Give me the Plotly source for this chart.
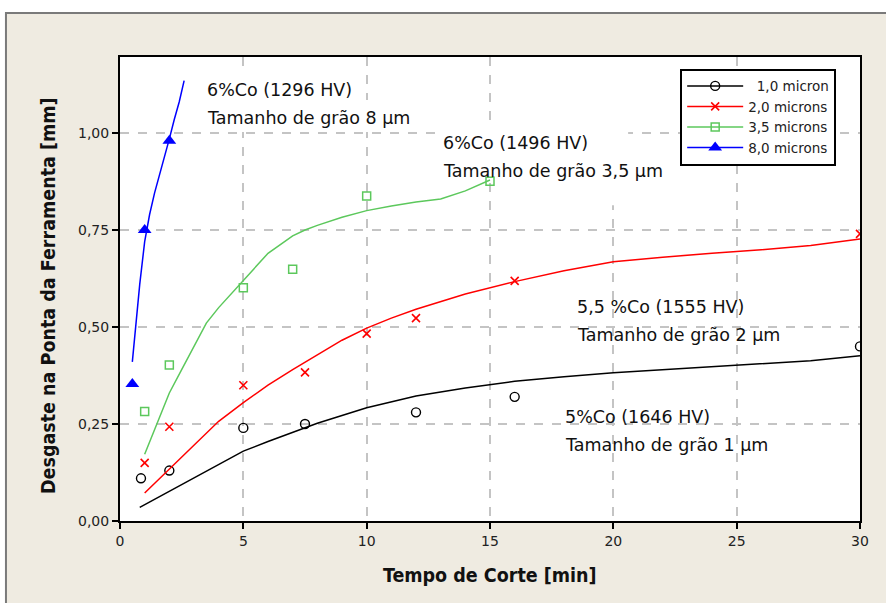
import plotly.graph_objects as go

# ---------------- data ----------------
series_names = ["\u00a0\u00a01,0 micron", "2,0 microns", "3,5 microns", "8,0 microns"]

# measured points (markers)
t_1_pts = [0.85, 2.0, 5.0, 7.5, 12.0, 16.0, 30.0]
w_1_pts = [0.11, 0.13, 0.24, 0.25, 0.28, 0.32, 0.45]
t_2_pts = [1.0, 2.0, 5.0, 7.5, 10.0, 12.0, 16.0, 30.0]
w_2_pts = [0.15, 0.243, 0.35, 0.383, 0.483, 0.523, 0.619, 0.74]
t_35_pts = [1.0, 2.0, 5.0, 7.0, 10.0, 15.0]
w_35_pts = [0.282, 0.402, 0.601, 0.649, 0.838, 0.876]
t_8_pts = [0.5, 1.0, 2.0]
w_8_pts = [0.353, 0.75, 0.98]

# fitted curves (lines)
t_1_fit = [0.8, 2, 3, 4, 5, 6, 7, 8, 9, 10, 12, 14, 16, 18, 20, 22, 24, 26, 28, 30]
w_1_fit = [0.035, 0.077, 0.112, 0.147, 0.18, 0.205, 0.228, 0.252, 0.272, 0.292,
           0.322, 0.343, 0.36, 0.372, 0.382, 0.39, 0.397, 0.405, 0.413, 0.426]
t_2_fit = [1, 2, 3, 4, 5, 6, 7, 8, 9, 10, 11, 12, 13, 14, 16, 18, 20, 22, 24, 26, 28, 30]
w_2_fit = [0.072, 0.133, 0.195, 0.257, 0.305, 0.35, 0.39, 0.428, 0.466, 0.497, 0.523,
           0.546, 0.566, 0.585, 0.617, 0.645, 0.668, 0.68, 0.69, 0.699, 0.71, 0.727]
t_35_fit = [1, 1.5, 2, 2.5, 3, 3.5, 4, 5, 6, 7, 7.5, 8, 9, 10, 11, 12, 13, 14, 15]
w_35_fit = [0.172, 0.252, 0.33, 0.39, 0.45, 0.51, 0.55, 0.621, 0.69, 0.735, 0.75,
            0.762, 0.783, 0.80, 0.812, 0.822, 0.83, 0.851, 0.879]
t_8_fit = [0.5, 0.6, 0.8, 1.0, 1.2, 1.4, 1.6, 1.8, 2.0, 2.2, 2.4, 2.6]
w_8_fit = [0.41, 0.48, 0.61, 0.72, 0.79, 0.845, 0.89, 0.94, 0.985, 1.035, 1.08, 1.135]

x_ticks = [0, 5, 10, 15, 20, 25, 30]
x_ticktext = ["0", "5", "10", "15", "20", "25", "30"]
y_ticks = [0.0, 0.25, 0.5, 0.75, 1.0]
y_ticktext = ["0,00", "0,25", "0,50", "0,75", "1,00"]

x_title = "Tempo de Corte [min]"
y_title = "Desgaste na Ponta da Ferramenta [mm]"

labels = [
    (3.45, 1.111, "6%Co (1296 HV)"),
    (3.45, 1.039, "Tamanho de grão 8 µm"),
    (13.0, 0.974, "6%Co (1496 HV)"),
    (13.0, 0.902, "Tamanho de grão 3,5 µm"),
    (18.45, 0.552, "5,5 %Co (1555 HV)"),
    (18.45, 0.479, "Tamanho de grão 2 µm"),
    (17.96, 0.268, "5%Co (1646 HV)"),
    (17.96, 0.196, "Tamanho de grão 1 µm"),
]

# white text-box areas that mask the grid behind the upper labels (x0, x1, y0, y1 in data units)
mask_boxes = [
    (3.3, 9.9, 1.085, 1.162),
    (3.3, 11.8, 1.003, 1.085),
    (12.9, 20.6, 0.884, 1.028),
    (19.8, 20.2, 0.814, 1.196),
]

# ---------------- styles ----------------
styles = [
    dict(color="#000000", symbol="circle-open", size=9, mlw=1.4),
    dict(color="#ff0000", symbol="x-thin-open", size=8, mlw=1.6),
    dict(color="#5cc85c", symbol="square-open", size=8, mlw=1.5),
    dict(color="#0000ff", symbol="triangle-up", size=12, mlw=0),
]
fits = [(t_1_fit, w_1_fit), (t_2_fit, w_2_fit), (t_35_fit, w_35_fit), (t_8_fit, w_8_fit)]
pts = [(t_1_pts, w_1_pts), (t_2_pts, w_2_pts), (t_35_pts, w_35_pts), (t_8_pts, w_8_pts)]

fig = go.Figure()
for name, st, (tf, wf), (tp, wp) in zip(series_names, styles, fits, pts):
    marker = dict(symbol=st["symbol"], size=st["size"], color=st["color"],
                  line=dict(color=st["color"], width=st["mlw"]))
    fig.add_trace(go.Scatter(x=tf, y=wf, mode="lines", line=dict(color=st["color"], width=1.5),
                             showlegend=False, legendgroup=name, hoverinfo="skip"))
    fig.add_trace(go.Scatter(x=tp, y=wp, mode="markers", marker=marker,
                             showlegend=False, legendgroup=name))
    # legend entry (line + marker)
    fig.add_trace(go.Scatter(x=[None], y=[None], mode="lines+markers", name=name,
                             line=dict(color=st["color"], width=1.5), marker=marker,
                             legendgroup=name))

font_main = "DejaVu Sans, Verdana, sans-serif"
font_bold = "DejaVu Sans Condensed, DejaVu Sans, sans-serif"

annotations = []
for (lx, ly, txt) in labels:
    annotations.append(dict(x=lx, y=ly, xref="x", yref="y", text=txt, showarrow=False,
                            xanchor="left", yanchor="middle",
                            font=dict(family=font_main, size=17.5, color="#111111")))

annotations.append(dict(x=0.5, y=-0.1185, xref="paper", yref="paper", text="<b>" + x_title + "</b>",
                        showarrow=False, xanchor="center", yanchor="middle",
                        font=dict(family=font_bold, size=19.5, color="#111111")))
annotations.append(dict(x=-0.0973, y=0.487, xref="paper", yref="paper", text="<b>" + y_title + "</b>",
                        showarrow=False, xanchor="center", yanchor="middle", textangle=-90,
                        font=dict(family=font_bold, size=19.5, color="#111111")))

shapes = [
    # beige outer panel
    dict(type="rect", xref="paper", yref="paper", x0=-0.1541, x1=1.2, y0=-0.3, y1=1.0948,
         fillcolor="#efebe1", line=dict(color="#7a7a7a", width=2), layer="below"),
    # white plotting area
    dict(type="rect", xref="paper", yref="paper", x0=0, x1=1, y0=0, y1=1,
         fillcolor="white", line=dict(width=0), layer="below"),
]
for (bx0, bx1, by0, by1) in mask_boxes:
    shapes.append(dict(type="rect", xref="x", yref="y", x0=bx0, x1=bx1, y0=by0, y1=by1,
                       fillcolor="white", line=dict(width=0), layer="between"))

axis_common = dict(showline=True, linecolor="black", linewidth=2, mirror=True,
                   ticks="outside", ticklen=6, tickwidth=2, tickcolor="black",
                   showgrid=True, gridcolor="#c4c4c4", gridwidth=1.5, griddash="dash",
                   zeroline=False,
                   tickfont=dict(family=font_main, size=14, color="#222222"))

fig.update_layout(
    width=886, height=603, autosize=False,
    margin=dict(l=120, r=26, t=57, b=82),
    paper_bgcolor="white", plot_bgcolor="white",
    xaxis=dict(range=[0, 30], tickvals=x_ticks, ticktext=x_ticktext, **axis_common),
    yaxis=dict(range=[0, 1.196], tickvals=y_ticks, ticktext=y_ticktext, **axis_common),
    legend=dict(x=0.757, y=0.975, xanchor="left", yanchor="top", bgcolor="white",
                bordercolor="black", borderwidth=2, itemwidth=56,
                font=dict(family=font_main, size=13.5, color="#222222"),
                tracegroupgap=0),
    annotations=annotations,
    shapes=shapes,
    showlegend=True,
)

fig.write_html("out.html", config={"displayModeBar": False},
               post_script="document.body.style.margin='0px';")
